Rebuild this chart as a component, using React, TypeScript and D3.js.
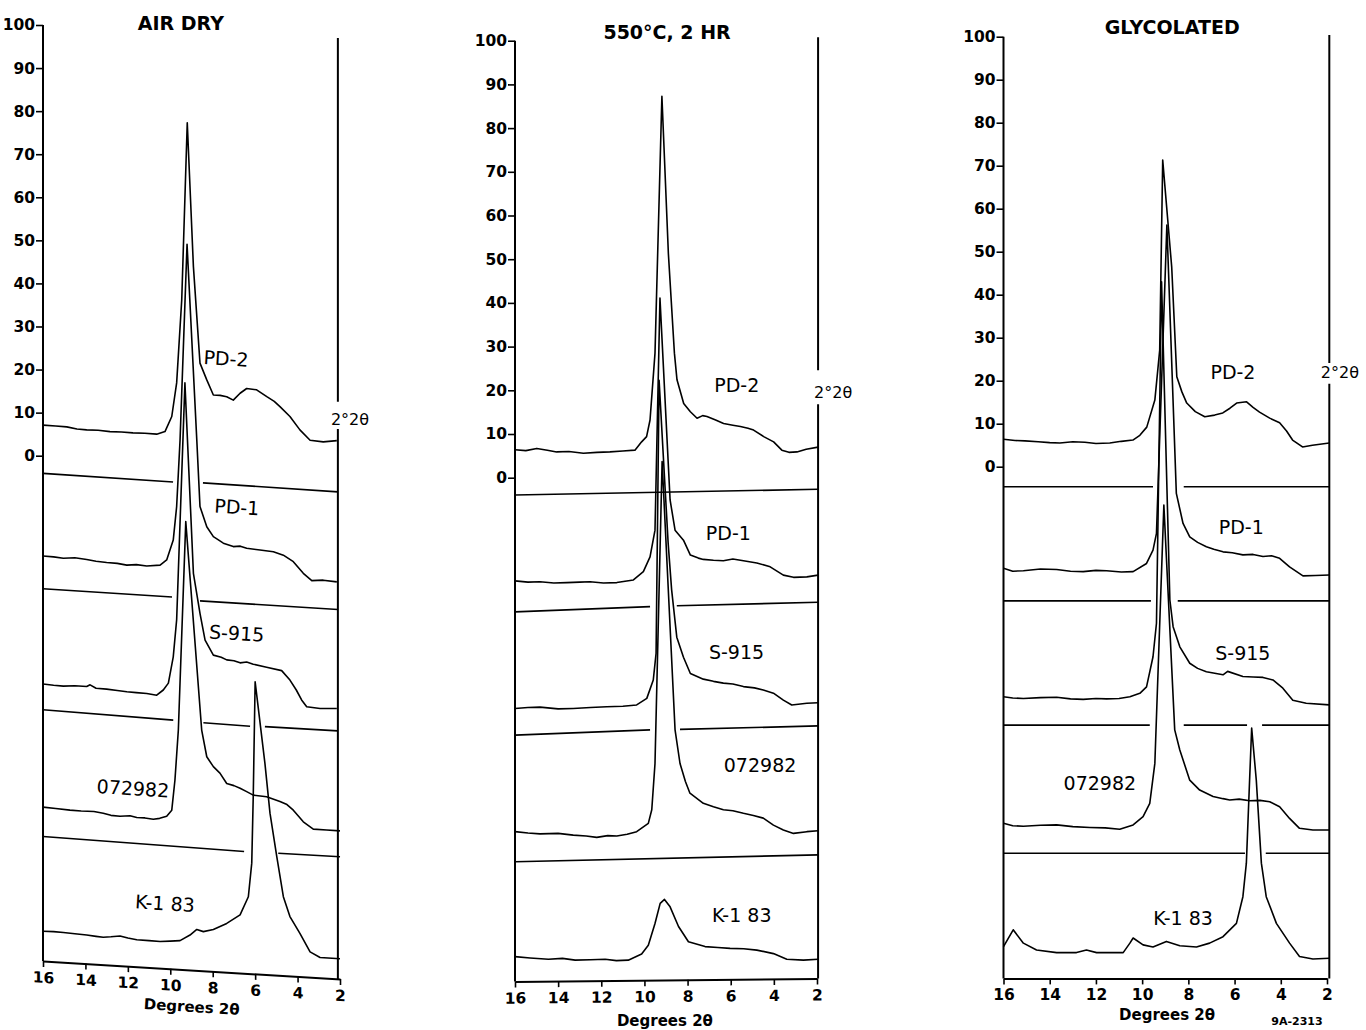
import React, { useRef, useEffect } from "react";
import * as d3 from "d3";

type Pt = [number, number];
type Seg = [Pt, Pt];

const FONT = "'DejaVu Sans', sans-serif";

const xTicks = [16, 14, 12, 10, 8, 6, 4, 2];
const yTicks = [0, 10, 20, 30, 40, 50, 60, 70, 80, 90, 100];
const sampleNames = ["PD-2", "PD-1", "S-915", "072982", "K-1 83"];
const panelTitles = ["AIR DRY", "550°C, 2 HR", "GLYCOLATED"];
const rightLabel = "2°2θ";
const xLabel = "Degrees 2θ";
const figureCode = "9A-2313";

// ---- AIR DRY (degrees 2θ, intensity on the panel's y scale) ----
const airPD2: Pt[] = [
 [16, 7.1], [15.4, 6.9], [14.88, 6.7], [14.4, 6.2], [13.94, 6.0], [13.4, 5.9], [12.84, 5.6], [12.3, 5.5],
 [11.76, 5.3], [11.2, 5.2], [10.64, 5.0], [10.25, 5.6], [9.93, 9.1], [9.7, 16.9], [9.46, 36.2], [9.2, 77.3],
 [8.91, 43.9], [8.6, 21.5], [8.28, 17.6], [7.97, 14.1], [7.65, 14.0], [7.34, 13.7], [7.03, 12.9], [6.71, 14.5],
 [6.4, 15.6], [5.93, 15.3], [5.45, 13.7], [5.1, 12.6], [4.83, 11.4], [4.36, 9.1], [3.89, 6.0], [3.41, 3.6],
 [2.79, 3.2], [2.15, 3.5],
];
const airPD1: Pt[] = [
 [16, -23.3], [15.5, -23.5], [15.04, -23.8], [14.5, -23.7], [13.94, -24.1], [13.5, -24.5], [13.0, -24.8],
 [12.5, -25.0], [12.05, -25.4], [11.6, -25.3], [11.11, -25.6], [10.48, -25.4], [10.17, -24.2], [9.86, -19.6],
 [9.7, -11.8], [9.54, 3.6], [9.21, 49.1], [8.75, 3.6], [8.6, -11.8], [8.28, -16.5], [7.97, -18.8], [7.75, -19.5],
 [7.5, -20.3], [7.03, -21.1], [6.7, -21.0], [6.4, -21.5], [5.77, -21.9], [5.14, -22.3], [4.67, -23.1],
 [4.2, -24.6], [3.73, -27.3], [3.33, -29.0], [2.79, -28.9], [2.15, -29.3],
];
const airS915: Pt[] = [
 [16, -53.0], [15.5, -53.3], [15.04, -53.5], [14.5, -53.4], [13.94, -53.6], [13.78, -53.2], [13.5, -54.0],
 [13.0, -54.2], [12.5, -54.5], [12.05, -54.8], [11.6, -55.0], [11.11, -55.2], [10.64, -55.6], [10.33, -54.4],
 [10.09, -52.8], [9.86, -46.7], [9.7, -38.1], [9.31, 16.9], [8.91, -27.3], [8.6, -36.6], [8.36, -42.8],
 [7.97, -46.3], [7.6, -46.8], [7.34, -47.4], [7.0, -47.6], [6.71, -48.1], [6.4, -47.9], [6.09, -48.4],
 [5.46, -49.1], [4.75, -49.9], [4.36, -52.1], [4.06, -54.4], [3.81, -56.7], [3.57, -58.3], [2.94, -58.7],
 [2.15, -58.7],
];
const air072982: Pt[] = [
 [16, -81.6], [15.4, -81.9], [14.73, -82.3], [14.2, -82.5], [13.6, -82.6], [13.16, -83.0], [12.8, -83.5],
 [12.37, -83.7], [11.9, -83.6], [11.58, -84.0], [11.2, -84.1], [10.8, -84.4], [10.5, -84.2], [10.17, -83.7],
 [9.93, -82.3], [9.78, -75.3], [9.62, -63.7], [9.27, -15.3], [8.52, -63.7], [8.28, -69.9], [7.97, -72.2],
 [7.66, -73.7], [7.34, -76.1], [7.0, -76.6], [6.71, -77.2], [6.4, -78.0], [6.09, -78.8], [5.46, -79.2],
 [4.83, -80.3], [4.5, -81.0], [4.2, -82.3], [3.73, -85.0], [3.26, -86.7], [2.63, -86.9], [2.0, -87.1],
];
const airK183: Pt[] = [
 [16, -110.4], [15.5, -110.5], [15.04, -110.7], [14.5, -111.0], [13.94, -111.3], [13.5, -111.6],
 [13.16, -111.8], [12.8, -111.7], [12.37, -111.5], [12.0, -112.0], [11.58, -112.4], [11.0, -112.6],
 [10.48, -112.8], [10.0, -112.7], [9.54, -112.6], [9.07, -111.3], [8.75, -110.0], [8.44, -110.5],
 [7.97, -110.0], [7.34, -108.6], [6.71, -106.6], [6.32, -102.4], [6.16, -94.6], [6.09, -79.2], [6.0, -52.5],
 [5.54, -71.4], [5.3, -83.0], [4.98, -93.1], [4.67, -102.4], [4.36, -107.0], [3.89, -110.9], [3.41, -115.2],
 [2.94, -116.5], [2.0, -116.8],
];
const airBaselines: Seg[] = [
 [[16, -4.1], [9.87, -6.1]], [[8.46, -6.3], [2.1, -8.4]],
 [[16, -30.9], [9.92, -32.8]], [[8.6, -33.7], [2.1, -35.7]],
 [[16, -59.0], [9.86, -61.4]], [[8.44, -62.0], [6.24, -62.8]], [[5.54, -62.9], [2.1, -63.9]],
 [[16, -88.4], [6.52, -91.9]], [[4.91, -92.3], [2.0, -93.1]],
];

// ---- 550°C, 2 HR ----
const heatPD2: Pt[] = [
 [16, 6.4], [15.5, 6.2], [14.99, 6.7], [14.5, 6.3], [14.07, 5.9], [13.5, 6.0], [12.83, 5.6], [12.2, 5.8],
 [11.6, 5.9], [11.0, 6.1], [10.44, 6.3], [10.13, 8.2], [9.9, 9.4], [9.74, 13.2], [9.51, 28.5], [9.19, 87.3],
 [8.89, 51.3], [8.61, 28.5], [8.49, 22.4], [8.18, 17.0], [7.87, 15.1], [7.56, 13.6], [7.3, 14.2], [7.1, 14.0],
 [6.7, 13.2], [6.33, 12.4], [5.9, 12.0], [5.55, 11.7], [5.2, 11.3], [4.94, 10.9], [4.47, 9.4], [4.01, 8.2],
 [3.63, 6.3], [3.3, 5.8], [2.93, 5.9], [2.5, 6.5], [1.95, 7.0],
];
const heatPD1: Pt[] = [
 [16, -23.6], [15.4, -23.9], [14.84, -23.8], [14.2, -24.1], [13.6, -24.0], [13.0, -23.9], [12.52, -23.8],
 [11.9, -24.1], [11.28, -24.0], [10.51, -23.4], [10.05, -21.5], [9.74, -18.1], [9.51, -12.0], [9.28, 41.1],
 [8.81, -5.1], [8.58, -12.0], [8.19, -14.3], [7.87, -17.7], [7.5, -18.4], [7.27, -18.7], [6.8, -18.9],
 [6.34, -19.0], [5.9, -18.6], [5.41, -19.0], [4.79, -19.5], [4.17, -20.4], [3.56, -22.3], [3.09, -22.8],
 [2.47, -22.7], [1.95, -22.3],
];
const heatS915: Pt[] = [
 [16, -52.8], [15.4, -52.6], [14.84, -52.5], [14.0, -52.9], [13.3, -52.8], [12.5, -52.6], [11.75, -52.4],
 [11.0, -52.3], [10.36, -52.0], [9.89, -50.5], [9.59, -46.3], [9.46, -40.2], [9.32, 22.3], [8.9, -15.0],
 [8.74, -25.6], [8.5, -36.5], [8.19, -41.1], [7.87, -44.8], [7.27, -46.1], [6.8, -46.6], [6.34, -47.0],
 [5.9, -47.2], [5.41, -47.8], [4.9, -48.1], [4.49, -48.6], [4.02, -49.3], [3.56, -50.9], [3.17, -52.0],
 [2.47, -51.6], [1.95, -51.5],
];
const heat072982: Pt[] = [
 [16, -81.0], [15.4, -81.3], [14.84, -81.5], [14.0, -81.4], [13.3, -81.8], [12.7, -82.0], [12.21, -82.3],
 [11.7, -81.9], [11.28, -82.0], [10.8, -81.6], [10.36, -81.0], [9.82, -79.1], [9.66, -76.0], [9.51, -65.4],
 [9.18, 3.7], [8.58, -57.7], [8.35, -65.4], [8.1, -69.5], [7.89, -72.2], [7.27, -74.5], [6.8, -75.3],
 [6.34, -76.0], [5.9, -76.2], [5.41, -76.8], [4.95, -77.3], [4.49, -77.9], [4.02, -79.5], [3.56, -80.6],
 [3.09, -81.4], [2.47, -81.0], [1.95, -80.8],
];
const heatK183: Pt[] = [
 [16, -109.6], [15.3, -109.9], [14.45, -110.2], [13.8, -110.0], [13.21, -110.4], [12.5, -110.3],
 [11.82, -110.2], [11.3, -110.5], [10.75, -110.4], [10.13, -109.0], [9.82, -107.0], [9.51, -102.0],
 [9.27, -97.4], [9.07, -96.5], [8.81, -98.2], [8.42, -102.7], [7.96, -106.2], [7.19, -107.3], [6.6, -107.5],
 [6.03, -107.7], [5.4, -107.8], [4.79, -108.1], [4.02, -108.9], [3.4, -110.2], [2.63, -110.4], [1.95, -110.2],
];
const heatBaselines: Seg[] = [
 [[16, -3.96], [1.95, -2.65]],
 [[16, -30.7], [9.74, -29.5]], [[8.5, -29.3], [1.95, -28.5]],
 [[16, -58.9], [9.74, -57.7]], [[8.35, -57.6], [1.95, -56.8]],
 [[16, -87.9], [1.95, -86.3]],
];

// ---- GLYCOLATED ----
const glyPD2: Pt[] = [
 [16, 6.4], [15.5, 6.1], [15.07, 6.0], [14.5, 5.8], [14.0, 5.6], [13.56, 5.5], [13.0, 5.8], [12.48, 5.7],
 [12.0, 5.4], [11.4, 5.5], [10.9, 5.9], [10.4, 6.2], [10.1, 7.3], [9.8, 9.2], [9.45, 15.5], [9.24, 27.1],
 [9.11, 71.3], [8.72, 46.4], [8.5, 20.9], [8.28, 17.4], [8.07, 14.8], [7.7, 12.8], [7.29, 11.6], [6.86, 12.0],
 [6.51, 12.5], [6.2, 13.6], [5.91, 14.8], [5.48, 15.1], [5.2, 13.8], [4.92, 12.7], [4.48, 11.3], [4.05, 10.2],
 [3.75, 8.3], [3.49, 6.2], [3.06, 4.6], [2.63, 5.0], [1.9, 5.5],
];
const glyPD1: Pt[] = [
 [16, -23.6], [15.6, -24.3], [15.14, -24.2], [14.4, -23.8], [13.7, -23.9], [13.1, -24.3], [12.55, -24.4],
 [12.0, -24.1], [11.54, -24.2], [10.9, -24.5], [10.39, -24.4], [9.81, -22.5], [9.53, -19.4], [9.38, -15.5],
 [8.93, 56.2], [8.52, -6.2], [8.23, -13.2], [7.94, -16.3], [7.6, -17.6], [7.22, -18.6], [6.9, -19.2],
 [6.5, -19.8], [6.1, -20.0], [5.64, -20.5], [5.2, -20.4], [4.77, -20.9], [4.4, -20.7], [4.05, -21.3],
 [3.62, -23.3], [3.04, -25.4], [2.5, -25.3], [1.9, -25.2],
];
const glyS915: Pt[] = [
 [16, -53.5], [15.6, -53.8], [15.14, -53.9], [14.4, -53.7], [13.7, -53.6], [13.1, -54.0], [12.55, -54.1],
 [12.0, -53.9], [11.54, -54.0], [11.0, -53.9], [10.53, -53.5], [10.1, -52.7], [9.81, -51.2], [9.53, -44.2],
 [9.38, -36.4], [9.16, 43.0], [8.8, -31.0], [8.66, -37.2], [8.37, -41.9], [7.94, -45.7], [7.6, -46.9],
 [7.22, -47.7], [6.5, -48.4], [6.3, -47.6], [5.64, -48.8], [5.2, -48.9], [4.77, -49.0], [4.34, -49.6],
 [3.91, -51.5], [3.48, -54.3], [2.9, -55.0], [1.9, -55.4],
];
const gly072982: Pt[] = [
 [16, -82.9], [15.6, -83.5], [15.14, -83.6], [14.4, -83.4], [13.7, -83.3], [13.0, -83.7], [12.26, -83.9],
 [11.6, -84.0], [10.97, -84.3], [10.39, -83.3], [9.96, -81.4], [9.67, -78.3], [9.45, -69.0], [9.06, -8.9],
 [8.59, -61.2], [8.37, -65.9], [7.94, -72.9], [7.51, -75.2], [6.93, -76.7], [6.5, -77.2], [6.21, -77.5],
 [5.8, -77.3], [5.35, -77.7], [4.9, -77.6], [4.48, -77.9], [4.05, -79.1], [3.62, -81.8], [3.19, -84.1],
 [2.61, -84.5], [1.9, -84.5],
];
const glyK183: Pt[] = [
 [16, -111.6], [15.58, -107.7], [15.14, -110.8], [14.57, -112.4], [13.7, -113.0], [12.84, -113.0],
 [12.41, -112.4], [11.97, -113.0], [10.82, -113.0], [10.53, -110.8], [10.39, -109.6], [9.96, -111.2],
 [9.53, -111.7], [8.95, -110.4], [8.37, -111.4], [7.65, -111.7], [7.08, -110.8], [6.5, -109.3],
 [5.92, -106.2], [5.64, -100.0], [5.49, -92.2], [5.35, -72.9], [5.26, -60.8], [5.06, -72.9], [4.84, -92.2],
 [4.63, -100.0], [4.19, -106.2], [3.62, -110.8], [3.19, -113.9], [2.61, -114.5], [1.9, -114.3],
];
const glyBaselines: Seg[] = [
 [[16, -4.65], [9.53, -4.65]], [[8.2, -4.65], [1.9, -4.65]],
 [[16, -31.2], [9.62, -31.2]], [[8.46, -31.2], [1.9, -31.2]],
 [[16, -60.1], [9.67, -60.1]], [[8.2, -60.1], [5.46, -60.1]], [[4.81, -60.1], [1.9, -60.1]],
 [[16, -89.9], [5.55, -89.9]], [[4.65, -89.9], [1.9, -89.9]],
];

// label anchors [deg, value], one per sample, per panel
const airLabelAt: Pt[] = [[7.37, 22.6], [6.86, -11.9], [6.87, -41.2], [11.76, -77.2], [10.25, -103.9]];
const heatLabelAt: Pt[] = [[5.72, 21.2], [6.11, -12.7], [5.73, -39.8], [4.64, -65.7], [5.49, -100.1]];
const glyLabelAt: Pt[] = [[6.07, 22.1], [5.71, -14.0], [5.64, -43.4], [11.83, -73.6], [8.23, -105.0]];

const panels = [
 {
  title: panelTitles[0], traces: [airPD2, airPD1, airS915, air072982, airK183], baselines: airBaselines,
  labels: airLabelAt, titleAt: [9.5, 100.5], xLabelAt: [8.99, -128.0], axisEnds: [-117.3, -121.5],
  rightDeg: 2.1, rightTop: 97, rightGap: [12.5, 6.2], rightLabelAt: [1.53, 8.3],
  xRange: [43, 340], y0: 455.7, y100: 25, tilt: 3.5,
 },
 {
  title: panelTitles[1], traces: [heatPD2, heatPD1, heatS915, heat072982, heatK183], baselines: heatBaselines,
  labels: heatLabelAt, titleAt: [8.95, 102.0], xLabelAt: [9.05, -124.3], axisEnds: [-115.3, -114.6],
  rightDeg: 1.95, rightTop: 100.8, rightGap: [24.6, 16.8], rightLabelAt: [1.25, 19.4],
  xRange: [515, 817], y0: 477.7, y100: 40.7, tilt: 0,
 },
 {
  title: panelTitles[2], traces: [glyPD2, glyPD1, glyS915, gly072982, glyK183], baselines: glyBaselines,
  labels: glyLabelAt, titleAt: [8.7, 102.3], xLabelAt: [8.92, -127.4], axisEnds: [-119.0, -119.0],
  rightDeg: 1.9, rightTop: 100.4, rightGap: [24.1, 19.3], rightLabelAt: [1.44, 22.0],
  xRange: [1003.5, 1327], y0: 466.7, y100: 36.7, tilt: 0,
 },
];

const Panel = ({ p }) => {
 const yAxisRef = useRef(null);
 const xAxisRef = useRef(null);

 const x = d3.scaleLinear().domain([16, 2]).range(p.xRange);
 const y = d3.scaleLinear().domain([0, 100]).range([p.y0, p.y100]);
 const line = d3.line<Pt>().x((d) => x(d[0])).y((d) => y(d[1])).curve(d3.curveLinear);

 const yl = y(p.axisEnds[0]);
 const yr = y(p.axisEnds[1]);
 const w = p.xRange[1] - p.xRange[0];
 const skew = (Math.atan2(yr - yl, w) * 180) / Math.PI;

 useEffect(() => {
  const ga = d3.select(yAxisRef.current);
  ga.call(d3.axisLeft(y).tickValues(yTicks).tickSize(7).tickPadding(1).tickFormat(d3.format("d")));
  ga.select(".domain").remove();
  ga.attr("font-family", FONT).attr("font-size", 15.5).attr("font-weight", "bold");
  ga.selectAll("line").attr("stroke", "#000").attr("stroke-width", 1.6);

  const xs = d3.scaleLinear().domain([16, 2]).range([0, w]);
  const gx = d3.select(xAxisRef.current);
  gx.call(d3.axisBottom(xs).tickValues(xTicks).tickSize(6).tickSizeOuter(0).tickPadding(5));
  gx.attr("font-family", FONT).attr("font-size", 15.5).attr("font-weight", "bold");
  gx.select(".domain").attr("stroke", "#000").attr("stroke-width", 2);
  gx.selectAll("line").attr("stroke", "#000").attr("stroke-width", 1.6);
 }, [p]);

 const xr = x(p.rightDeg);
 return (
  <g>
   <text x={x(p.titleAt[0])} y={y(p.titleAt[1])} textAnchor="middle" dominantBaseline="central"
    fontFamily={FONT} fontWeight="bold" fontSize={19}>{p.title}</text>

   {/* left axis line and ticks */}
   <line x1={p.xRange[0]} x2={p.xRange[0]} y1={y(100)} y2={yl} stroke="#000" strokeWidth={2} />
   <g ref={yAxisRef} transform={`translate(${p.xRange[0]},0)`} />

   {/* right edge line, broken for its label */}
   <line x1={xr} x2={xr} y1={y(p.rightTop)} y2={y(p.rightGap[0])} stroke="#000" strokeWidth={2} />
   <line x1={xr} x2={xr} y1={y(p.rightGap[1])} y2={yr} stroke="#000" strokeWidth={2} />
   <text x={x(p.rightLabelAt[0])} y={y(p.rightLabelAt[1])} textAnchor="middle" dominantBaseline="central"
    fontFamily={FONT} fontSize={16}>{rightLabel}</text>

   {/* bottom axis, following the tilt of the plotted sheet */}
   <g ref={xAxisRef} transform={`translate(${p.xRange[0]},${yl}) skewY(${skew})`} />
   <text x={x(p.xLabelAt[0])} y={y(p.xLabelAt[1])} textAnchor="middle" dominantBaseline="central"
    fontFamily={FONT} fontWeight="bold" fontSize={15}
    transform={`rotate(${p.tilt},${x(p.xLabelAt[0])},${y(p.xLabelAt[1])})`}>{xLabel}</text>

   {p.baselines.map((s, i) => (
    <path key={"b" + i} d={line(s)} stroke="#000" strokeWidth={1.6} fill="none" />
   ))}
   {p.traces.map((t, i) => (
    <path key={"t" + i} d={line(t)} stroke="#000" strokeWidth={1.6} fill="none" strokeLinejoin="round" />
   ))}
   {p.labels.map((l, i) => (
    <text key={"l" + i} x={x(l[0])} y={y(l[1])} textAnchor="middle" dominantBaseline="central"
     fontFamily={FONT} fontSize={19} transform={`rotate(${p.tilt},${x(l[0])},${y(l[1])})`}>
     {sampleNames[i]}
    </text>
   ))}
  </g>
 );
};

const App = () => {
 return (
  <svg width={1366} height={1030} style={{ position: "absolute", left: 0, top: 0, background: "#fff" }}>
   <rect width={1366} height={1030} fill="#fff" />
   {panels.map((p, i) => (
    <Panel key={i} p={p} />
   ))}
   <text x={1297} y={1021} textAnchor="middle" dominantBaseline="central" fontFamily={FONT}
    fontWeight="bold" fontSize={11}>{figureCode}</text>
  </svg>
 );
};

export default App;
